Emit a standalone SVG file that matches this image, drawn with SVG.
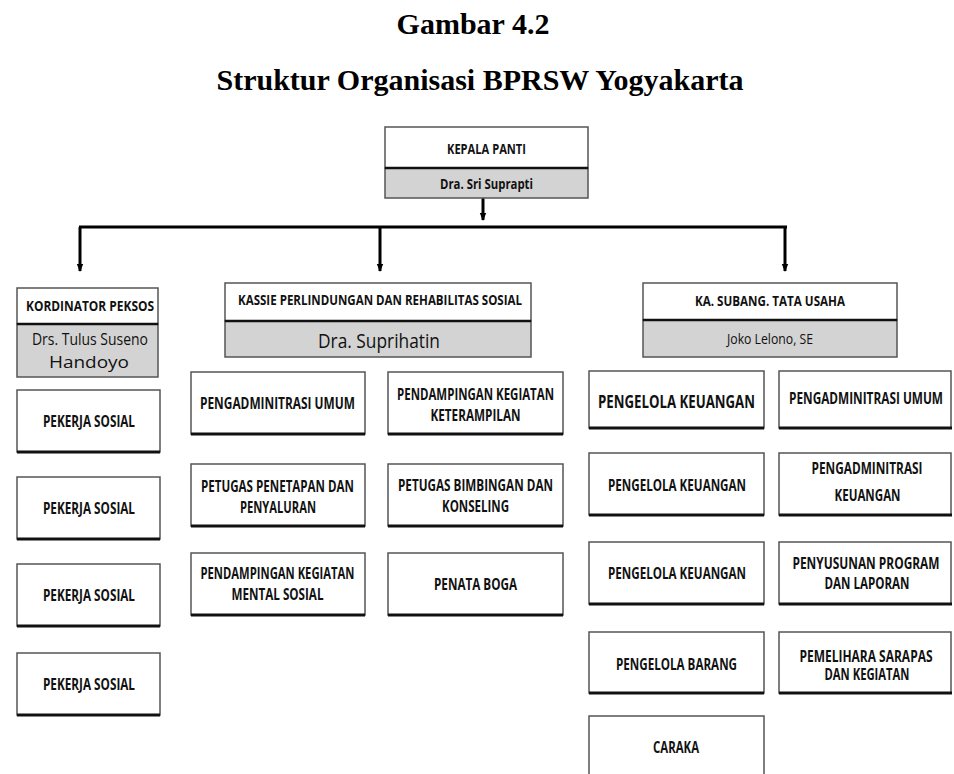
<svg xmlns="http://www.w3.org/2000/svg" width="954" height="774" viewBox="0 0 954 774">
<defs>
<style>
.title{font-family:"Liberation Serif","Times New Roman",serif;font-weight:bold;font-size:30px;fill:#000;text-anchor:middle}
.box{fill:#fff;stroke:#555;stroke-width:1.5}
.gray{fill:#d3d3d3;stroke:#555;stroke-width:1.5}
.base{stroke:#111;stroke-width:3}
.div{stroke:#111;stroke-width:2.5}
.t{font-family:"Open Sans","Liberation Sans",sans-serif;font-weight:bold;font-size:16px;fill:#111;text-anchor:middle;dominant-baseline:central}
.r{font-family:"Open Sans","Liberation Sans",sans-serif;font-weight:normal;font-size:16px;fill:#111;text-anchor:middle;dominant-baseline:central}
.conn{stroke:#000;stroke-width:3;fill:none}
</style>
<marker id="ah" markerUnits="userSpaceOnUse" markerWidth="8" markerHeight="8" refX="7" refY="4" orient="auto" viewBox="0 0 8 8">
<path d="M0,0.8 L8,4 L0,7.2 Z" fill="#000"/>
</marker>
</defs>
<rect width="954" height="774" fill="#fff"/>
<text class="title" x="473" y="34">Gambar 4.2</text>
<text class="title" x="480" y="90">Struktur Organisasi BPRSW Yogyakarta</text>

<g id="connectors">
<line class="conn" x1="483" y1="198" x2="483" y2="220" marker-end="url(#ah)"/>
<line class="conn" x1="79" y1="227" x2="787" y2="227"/>
<line class="conn" x1="80" y1="227" x2="80" y2="271" marker-end="url(#ah)"/>
<line class="conn" x1="380" y1="227" x2="380" y2="271" marker-end="url(#ah)"/>
<line class="conn" x1="785" y1="227" x2="785" y2="271" marker-end="url(#ah)"/>
</g>

<g id="kepala">
<rect class="box" x="385" y="127" width="203" height="41"/>
<rect class="gray" x="385" y="168" width="203" height="30"/>
<line class="div" x1="385" y1="168" x2="588" y2="168"/>
<text class="t" x="486.5" y="148" style="font-size:15px" textLength="79" lengthAdjust="spacingAndGlyphs">KEPALA PANTI</text>
<text class="t" x="486.5" y="183" style="font-size:15px" textLength="93" lengthAdjust="spacingAndGlyphs">Dra. Sri Suprapti</text>
</g>

<g id="kordinator">
<rect class="box" x="17" y="288" width="141" height="36"/>
<rect class="gray" x="17" y="324" width="141" height="53"/>
<line class="div" x1="17" y1="324" x2="158" y2="324"/>
<text class="t" x="90" y="305" style="font-size:15px" textLength="128" lengthAdjust="spacingAndGlyphs">KORDINATOR PEKSOS</text>
<text class="r" x="90" y="339" textLength="116" lengthAdjust="spacingAndGlyphs">Drs. Tulus Suseno</text>
<text class="r" x="89" y="362" textLength="80" lengthAdjust="spacingAndGlyphs">Handoyo</text>
</g>

<g id="kassie">
<rect class="box" x="225" y="283" width="306" height="38"/>
<rect class="gray" x="225" y="321" width="306" height="36"/>
<line class="div" x1="225" y1="321" x2="531" y2="321"/>
<text class="t" x="380" y="299" style="font-size:15px" textLength="284" lengthAdjust="spacingAndGlyphs">KASSIE PERLINDUNGAN DAN REHABILITAS SOSIAL</text>
<text class="r" x="379" y="340" style="font-size:20px" textLength="122" lengthAdjust="spacingAndGlyphs">Dra. Suprihatin</text>
</g>

<g id="kasubang">
<rect class="box" x="643" y="283" width="254" height="37"/>
<rect class="gray" x="643" y="320" width="254" height="37"/>
<line class="div" x1="643" y1="320" x2="897" y2="320"/>
<text class="t" x="770" y="300" style="font-size:15px" textLength="150" lengthAdjust="spacingAndGlyphs">KA. SUBANG. TATA USAHA</text>
<text class="r" x="770" y="338" style="font-size:15px" textLength="86" lengthAdjust="spacingAndGlyphs">Joko Lelono, SE</text>
</g>

<g id="pekerja1">
<rect class="box" x="17" y="390" width="143" height="62"/><line class="base" x1="17" y1="452" x2="160" y2="452"/>
<text class="t" x="89" y="421" textLength="92" lengthAdjust="spacingAndGlyphs">PEKERJA SOSIAL</text>
</g>
<g id="pekerja2">
<rect class="box" x="17" y="477" width="143" height="62"/><line class="base" x1="17" y1="539" x2="160" y2="539"/>
<text class="t" x="89" y="508" textLength="92" lengthAdjust="spacingAndGlyphs">PEKERJA SOSIAL</text>
</g>
<g id="pekerja3">
<rect class="box" x="17" y="564" width="143" height="62"/><line class="base" x1="17" y1="626" x2="160" y2="626"/>
<text class="t" x="89" y="595" textLength="92" lengthAdjust="spacingAndGlyphs">PEKERJA SOSIAL</text>
</g>
<g id="pekerja4">
<rect class="box" x="17" y="653" width="143" height="62"/><line class="base" x1="17" y1="715" x2="160" y2="715"/>
<text class="t" x="89" y="684" textLength="92" lengthAdjust="spacingAndGlyphs">PEKERJA SOSIAL</text>
</g>

<g id="pengadministrasi-umum-1">
<rect class="box" x="191" y="372" width="174" height="62"/><line class="base" x1="191" y1="434" x2="365" y2="434"/>
<text class="t" x="277.5" y="403" textLength="155" lengthAdjust="spacingAndGlyphs">PENGADMINITRASI UMUM</text>
</g>
<g id="petugas-penetapan">
<rect class="box" x="191" y="464" width="174" height="62"/><line class="base" x1="191" y1="526" x2="365" y2="526"/>
<text class="t" x="277.5" y="486" textLength="153" lengthAdjust="spacingAndGlyphs">PETUGAS PENETAPAN DAN</text>
<text class="t" x="278" y="507" textLength="76" lengthAdjust="spacingAndGlyphs">PENYALURAN</text>
</g>
<g id="pendampingan-mental">
<rect class="box" x="191" y="553" width="174" height="62"/><line class="base" x1="191" y1="615" x2="365" y2="615"/>
<text class="t" x="277.5" y="573" textLength="154" lengthAdjust="spacingAndGlyphs">PENDAMPINGAN KEGIATAN</text>
<text class="t" x="277.5" y="594" textLength="92" lengthAdjust="spacingAndGlyphs">MENTAL SOSIAL</text>
</g>

<g id="pendampingan-keterampilan">
<rect class="box" x="388" y="372" width="175" height="62"/><line class="base" x1="388" y1="434" x2="563" y2="434"/>
<text class="t" x="475.5" y="394" textLength="157" lengthAdjust="spacingAndGlyphs">PENDAMPINGAN KEGIATAN</text>
<text class="t" x="475.5" y="415" textLength="90" lengthAdjust="spacingAndGlyphs">KETERAMPILAN</text>
</g>
<g id="petugas-bimbingan">
<rect class="box" x="388" y="464" width="175" height="62"/><line class="base" x1="388" y1="526" x2="563" y2="526"/>
<text class="t" x="475.5" y="485" textLength="155" lengthAdjust="spacingAndGlyphs">PETUGAS BIMBINGAN DAN</text>
<text class="t" x="475.5" y="506" textLength="67" lengthAdjust="spacingAndGlyphs">KONSELING</text>
</g>
<g id="penata-boga">
<rect class="box" x="388" y="553" width="175" height="62"/><line class="base" x1="388" y1="615" x2="563" y2="615"/>
<text class="t" x="475.5" y="584" textLength="83" lengthAdjust="spacingAndGlyphs">PENATA BOGA</text>
</g>

<g id="pengelola-keuangan-1">
<rect class="box" x="589" y="371" width="175" height="57"/><line class="base" x1="589" y1="428" x2="764" y2="428"/>
<text class="t" x="676.5" y="401" style="font-size:18px" textLength="157" lengthAdjust="spacingAndGlyphs">PENGELOLA KEUANGAN</text>
</g>
<g id="pengelola-keuangan-2">
<rect class="box" x="589" y="453" width="175" height="62"/><line class="base" x1="589" y1="515" x2="764" y2="515"/>
<text class="t" x="677" y="485" textLength="138" lengthAdjust="spacingAndGlyphs">PENGELOLA KEUANGAN</text>
</g>
<g id="pengelola-keuangan-3">
<rect class="box" x="589" y="542" width="175" height="62"/><line class="base" x1="589" y1="604" x2="764" y2="604"/>
<text class="t" x="677" y="573" textLength="138" lengthAdjust="spacingAndGlyphs">PENGELOLA KEUANGAN</text>
</g>
<g id="pengelola-barang">
<rect class="box" x="589" y="632" width="175" height="61"/><line class="base" x1="589" y1="693" x2="764" y2="693"/>
<text class="t" x="676.5" y="664" textLength="121" lengthAdjust="spacingAndGlyphs">PENGELOLA BARANG</text>
</g>
<g id="caraka">
<rect class="box" x="589" y="716" width="175" height="80"/>
<text class="t" x="676" y="747" textLength="46" lengthAdjust="spacingAndGlyphs">CARAKA</text>
</g>

<g id="pengadministrasi-umum-2">
<rect class="box" x="779" y="371" width="172" height="57"/><line class="base" x1="779" y1="428" x2="952" y2="428"/>
<text class="t" x="866" y="398" textLength="154" lengthAdjust="spacingAndGlyphs">PENGADMINITRASI UMUM</text>
</g>
<g id="pengadministrasi-keuangan">
<rect class="box" x="779" y="453" width="172" height="62"/><line class="base" x1="779" y1="515" x2="952" y2="515"/>
<text class="t" x="867" y="468" textLength="111" lengthAdjust="spacingAndGlyphs">PENGADMINITRASI</text>
<text class="t" x="867.5" y="495" textLength="66" lengthAdjust="spacingAndGlyphs">KEUANGAN</text>
</g>
<g id="penyusunan-program">
<rect class="box" x="779" y="542" width="172" height="62"/><line class="base" x1="779" y1="604" x2="952" y2="604"/>
<text class="t" x="866" y="563" textLength="147" lengthAdjust="spacingAndGlyphs">PENYUSUNAN PROGRAM</text>
<text class="t" x="867" y="583" textLength="85" lengthAdjust="spacingAndGlyphs">DAN LAPORAN</text>
</g>
<g id="pemelihara-sarapas">
<rect class="box" x="779" y="632" width="172" height="61"/><line class="base" x1="779" y1="693" x2="952" y2="693"/>
<text class="t" x="866" y="656" textLength="133" lengthAdjust="spacingAndGlyphs">PEMELIHARA SARAPAS</text>
<text class="t" x="867" y="674" textLength="85" lengthAdjust="spacingAndGlyphs">DAN KEGIATAN</text>
</g>
</svg>
